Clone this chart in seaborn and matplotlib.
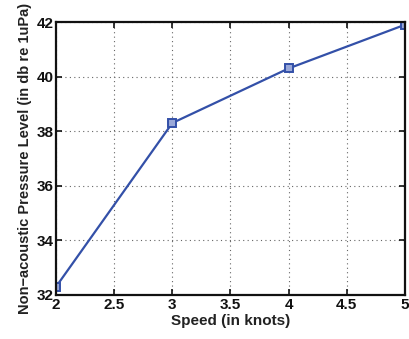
import matplotlib
matplotlib.use("Agg")
import matplotlib.pyplot as plt
import seaborn as sns
import pandas as pd

speed = [2, 3, 4, 5]
level = [32.3, 38.3, 40.3, 41.9]
xticks = [2, 2.5, 3, 3.5, 4, 4.5, 5]
yticks = [32, 34, 36, 38, 40, 42]

sns.set_style("white")
plt.rcParams['font.family'] = ['Liberation Sans', 'DejaVu Sans']
plt.rcParams['font.weight'] = 'bold'

df = pd.DataFrame({"speed": speed, "level": level})
fig = plt.figure(figsize=(4.09, 3.39), dpi=100)
ax = fig.add_axes([0.137, 0.130, 0.853, 0.805])
sns.lineplot(data=df, x="speed", y="level", ax=ax, color="#3350a8", linewidth=1.6,
             marker="s", markersize=6, markerfacecolor="#9aa8d8", markeredgecolor="#3350a8",
             markeredgewidth=1.4)
ax.set_xlim(2, 5)
ax.set_ylim(32, 42)
ax.set_xticks(xticks)
ax.set_xticklabels([f"{t:g}" for t in xticks])
ax.set_yticks(yticks)
ax.set_yticklabels([str(t) for t in yticks])
ax.grid(True, linestyle=(0, (1, 3)), color="#666666", linewidth=0.8)
for s in ax.spines.values():
    s.set_color("#111111")
    s.set_linewidth(1.6)
ax.tick_params(axis="both", labelsize=11, direction="in", length=4, width=1.2, pad=2,
               top=True, right=True, bottom=True, left=True, colors="#111111")
for lbl in ax.get_xticklabels() + ax.get_yticklabels():
    lbl.set_fontweight("bold")
ax.set_xlabel("Speed (in knots)", fontsize=11, fontweight="bold", labelpad=2, color="#222222")
ax.set_ylabel("Non\u2212acoustic Pressure Level (in db re 1uPa)", fontsize=10.5,
              fontweight="bold", labelpad=3, color="#222222")
fig.savefig("out.png", dpi=100)
